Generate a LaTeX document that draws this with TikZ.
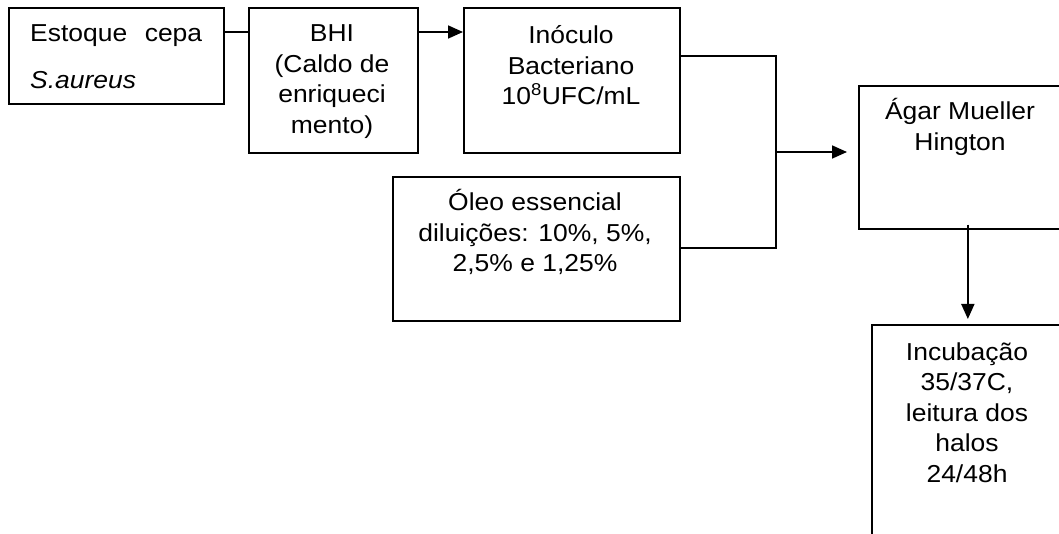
\documentclass[tikz,border=0pt]{standalone}
\usepackage{fontspec}
\setmainfont{Liberation Sans}[FakeStretch=1.08]
\usetikzlibrary{arrows.meta,calc}
\begin{document}
\begin{tikzpicture}[x=1pt,y=-1pt,
  box/.style={draw, line width=1.7pt, inner sep=0pt, anchor=north west},
  lbl/.style={font=\fontsize{24.5}{30.5}\selectfont, align=center, inner sep=0pt, anchor=base},
  conn/.style={line width=1.7pt},
  arr/.style={conn, -{Triangle[length=15pt,width=13pt]}}]
\useasboundingbox (0,0) rectangle (1059,534);
\clip (0,0) rectangle (1059,534);

% process boxes
\node[box, minimum width=215pt, minimum height=96pt]  (estoque) at (8,7) {};
\node[box, minimum width=169pt, minimum height=145pt] (bhi)     at (248,7) {};
\node[box, minimum width=216pt, minimum height=145pt] (inoculo) at (463,7) {};
\node[box, minimum width=287pt, minimum height=144pt] (oleo)    at (392,176) {};
\node[box, minimum width=204pt, minimum height=143pt] (agar)    at (858,85) {};
\node[box, minimum width=192pt, minimum height=240pt] (incub)   at (871,324) {};

% box texts (anchored at the baseline of their last line)
\node[lbl, anchor=base west] (tEst1) at (30,42) {\makebox[172pt][s]{Estoque cepa}};
\node[lbl, anchor=base west] (tEst2) at (30,89) {\itshape S.aureus};
\node[lbl] (tBhi)  at (332,133.5) {BHI\\(Caldo de\\enriqueci\\mento)};
\node[lbl] (tInoc) at (571,105)   {Inóculo\\Bacteriano\\10\textsuperscript{8}UFC/mL};
\node[lbl] (tOleo) at (535,272)   {Óleo essencial\\diluições: 10\%, 5\%,\\2,5\% e 1,25\%};
\node[lbl] (tAgar) at (960,150.5) {Ágar Mueller\\Hington};
\node[lbl] (tInc)  at (967,482)   {Incubação\\35/37C,\\leitura dos\\halos\\24/48h};

% connectors
\coordinate (j) at (776,152);
\draw[conn] ([yshift=-25pt]estoque.north east) -- ([yshift=-25pt]bhi.north west);
\draw[arr]  ([yshift=-25pt]bhi.north east) -- ([yshift=-25pt]inoculo.north west);
\draw[conn] ([yshift=-49pt]inoculo.north east) -| (j) |- ([yshift=-72pt]oleo.north east);
\draw[arr]  (j) -- ($(j -| agar.west)+(-11,0)$);
\draw[arr]  ($(agar.south -| incub.north)+(0,-5)$) -- ([yshift=5pt]incub.north);
\end{tikzpicture}
\end{document}
